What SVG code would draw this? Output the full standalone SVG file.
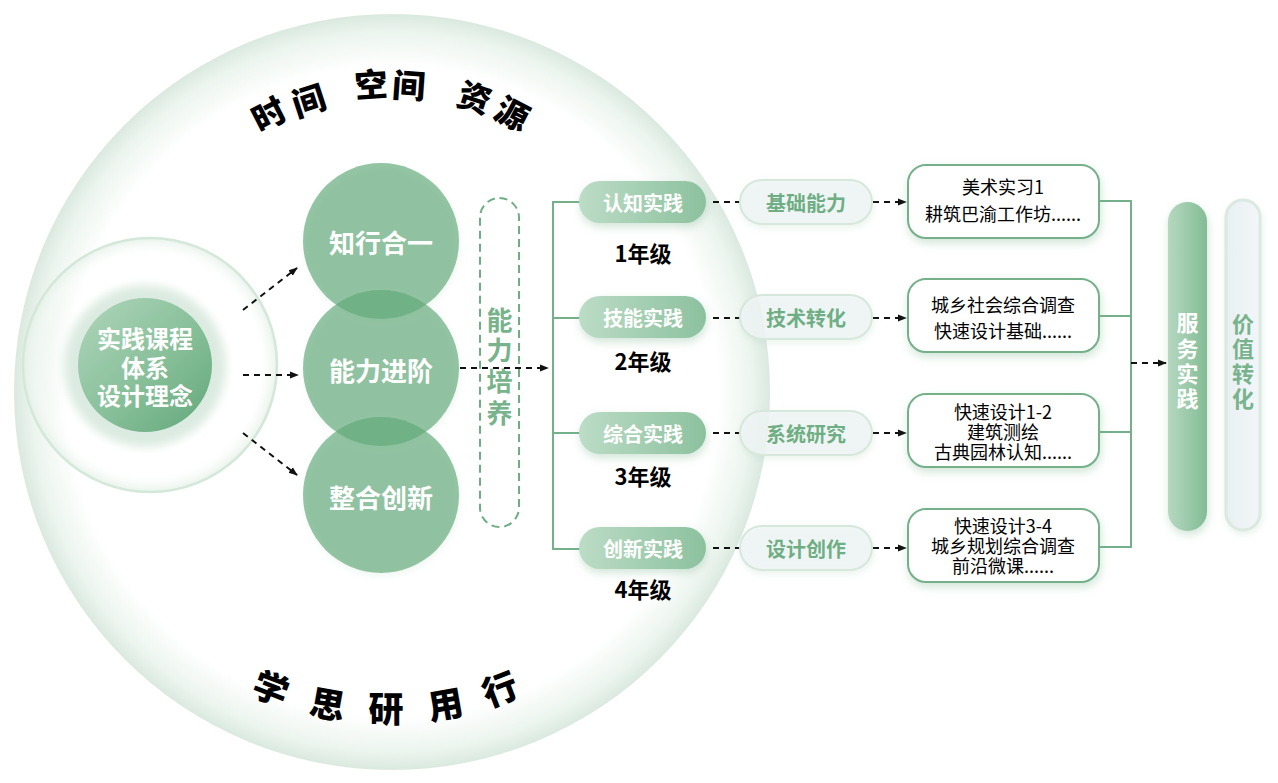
<svg xmlns="http://www.w3.org/2000/svg" width="1278" height="783" viewBox="0 0 1278 783">
<defs>
<style>
.cjk{font-family:"Noto Sans CJK SC","Noto Sans",sans-serif}
.w{fill:#ffffff;font-weight:700}
.arc{font-family:"Noto Sans CJK SC",sans-serif;font-weight:900;font-size:33px;fill:#000;text-anchor:middle;dominant-baseline:central}
.dash{fill:none;stroke:#111;stroke-width:2;stroke-dasharray:6 5}
.br{fill:none;stroke:#74b08a;stroke-width:2}
.pill{fill:url(#pillG);filter:url(#sh)}
.pill2{fill:#eef4f4;fill-opacity:0.85;stroke:#d6e8dc;stroke-width:2;filter:url(#sh2)}
.box{fill:#ffffff;stroke:#74b08a;stroke-width:2;filter:url(#sh)}
.pt{font-family:"Noto Sans CJK SC",sans-serif;font-weight:700;font-size:20px;fill:#ffffff;text-anchor:middle;dominant-baseline:central}
.gt{font-family:"Noto Sans CJK SC",sans-serif;font-weight:700;font-size:20px;fill:#6fae84;text-anchor:middle;dominant-baseline:central}
.yt{font-family:"Noto Sans CJK SC",sans-serif;font-weight:700;font-size:22px;fill:#000;text-anchor:middle;dominant-baseline:central}
.bt{font-family:"Noto Sans CJK SC",sans-serif;font-size:18px;fill:#000;text-anchor:middle;dominant-baseline:central}
.ct{font-family:"Noto Sans CJK SC",sans-serif;font-weight:700;font-size:26px;fill:#fff;text-anchor:middle;dominant-baseline:central}
.big{fill:#61a879;fill-opacity:0.67}
</style>
<radialGradient id="bigG" cx="392" cy="392" r="378" gradientUnits="userSpaceOnUse">
<stop offset="0" stop-color="#ffffff"/>
<stop offset="0.86" stop-color="#ffffff"/>
<stop offset="0.95" stop-color="#edf5ef"/>
<stop offset="1" stop-color="#dae9df"/>
</radialGradient>
<radialGradient id="ringG" cx="150" cy="365" r="127" gradientUnits="userSpaceOnUse">
<stop offset="0" stop-color="#ffffff" stop-opacity="0"/>
<stop offset="0.85" stop-color="#ffffff" stop-opacity="0"/>
<stop offset="1" stop-color="#e4f0e7" stop-opacity="0.8"/>
</radialGradient>
<linearGradient id="nodeG" x1="0" y1="0" x2="1" y2="1">
<stop offset="0" stop-color="#b0d6bb"/>
<stop offset="0.55" stop-color="#87bf99"/>
<stop offset="1" stop-color="#63a77a"/>
</linearGradient>
<linearGradient id="pillG" x1="0" y1="0" x2="1" y2="0">
<stop offset="0" stop-color="#bcdcc6"/>
<stop offset="1" stop-color="#8cc19e"/>
</linearGradient>
<linearGradient id="tallG" x1="0" y1="0" x2="1" y2="0">
<stop offset="0" stop-color="#b6d8c0"/>
<stop offset="1" stop-color="#83bc95"/>
</linearGradient>
<linearGradient id="tall2G" x1="0" y1="0" x2="1" y2="0">
<stop offset="0" stop-color="#e8f0f3"/>
<stop offset="1" stop-color="#f3f6f8"/>
</linearGradient>
<filter id="sh" x="-30%" y="-30%" width="160%" height="170%">
<feDropShadow dx="1" dy="4" stdDeviation="4" flood-color="#6aab80" flood-opacity="0.3"/>
</filter>
<filter id="sh2" x="-30%" y="-30%" width="160%" height="170%">
<feDropShadow dx="1" dy="3" stdDeviation="3" flood-color="#8fbf9f" flood-opacity="0.2"/>
</filter>
<filter id="blur" x="-30%" y="-30%" width="160%" height="160%">
<feGaussianBlur stdDeviation="4"/>
</filter>
<marker id="ah" viewBox="0 0 10 10" refX="9" refY="5" markerWidth="9" markerHeight="9" markerUnits="userSpaceOnUse" orient="auto">
<path d="M0,1 L10,5 L0,9 z" fill="#111"/>
</marker>
</defs>

<rect width="1278" height="783" fill="#ffffff"/>

<g id="background">
<circle cx="392" cy="392" r="378" fill="url(#bigG)"/>
<circle cx="150" cy="365" r="127" fill="url(#ringG)" stroke="#d4e8da" stroke-width="2.5"/>
</g>

<g id="arc-top">
<text class="arc" transform="translate(268,113) rotate(-27)">时</text>
<text class="arc" transform="translate(308,99) rotate(-18)">间</text>
<text class="arc" transform="translate(371,83) rotate(-4)">空</text>
<text class="arc" transform="translate(409,84) rotate(4)">间</text>
<text class="arc" transform="translate(475,96) rotate(18)">资</text>
<text class="arc" transform="translate(513,112) rotate(27)">源</text>
</g>
<g id="arc-bottom">
<text class="arc" style="font-size:35px" transform="translate(272,686) rotate(21)">学</text>
<text class="arc" style="font-size:35px" transform="translate(328,702) rotate(10)">思</text>
<text class="arc" style="font-size:35px" transform="translate(386,706)">研</text>
<text class="arc" style="font-size:35px" transform="translate(445,702) rotate(-10)">用</text>
<text class="arc" style="font-size:35px" transform="translate(499,687) rotate(-21)">行</text>
</g>

<g id="node-core">
<circle cx="145" cy="366" r="81" fill="#dcebe1" filter="url(#blur)"/>
<circle cx="145" cy="365" r="67" fill="url(#nodeG)"/>
<text class="pt" style="font-size:24px" x="145" y="337">实践课程</text>
<text class="pt" style="font-size:24px" x="145" y="366">体系</text>
<text class="pt" style="font-size:24px" x="145" y="394">设计理念</text>
</g>

<g id="node-circles" filter="url(#sh2)">
<circle class="big" cx="381" cy="241" r="78"/>
<circle class="big" cx="381" cy="368" r="78"/>
<circle class="big" cx="381" cy="495" r="78"/>
</g>
<g id="node-zhixing"><text class="ct" x="381" y="241">知行合一</text></g>
<g id="node-nengli"><text class="ct" x="381" y="369">能力进阶</text></g>
<g id="node-zhenghe"><text class="ct" x="381" y="496">整合创新</text></g>

<g id="node-peiyang">
<rect x="480" y="198" width="39" height="329" rx="19.5" fill="none" stroke="#6fae84" stroke-width="2" stroke-dasharray="8 5"/>
<text class="gt" style="font-size:26px;fill:#78b38c" x="499.5" y="318">能</text>
<text class="gt" style="font-size:26px;fill:#78b38c" x="499.5" y="348">力</text>
<text class="gt" style="font-size:26px;fill:#78b38c" x="499.5" y="379">培</text>
<text class="gt" style="font-size:26px;fill:#78b38c" x="499.5" y="411">养</text>
</g>

<g id="connectors">
<path class="dash" d="M243,310 L297,268" marker-end="url(#ah)"/>
<path class="dash" d="M243,375 L298,375" marker-end="url(#ah)"/>
<path class="dash" d="M243,433 L297,475" marker-end="url(#ah)"/>
<path class="dash" d="M460,368 L548,368" marker-end="url(#ah)"/>
<path class="br" d="M580,202 H553 V549 H580 M553,318 H580 M553,433 H580"/>
<path class="dash" d="M713,202 H740"/>
<path class="dash" d="M713,318 H740"/>
<path class="dash" d="M713,433 H740"/>
<path class="dash" d="M713,548 H740"/>
<path class="dash" d="M873,202 H906" marker-end="url(#ah)"/>
<path class="dash" d="M873,318 H906" marker-end="url(#ah)"/>
<path class="dash" d="M873,433 H906" marker-end="url(#ah)"/>
<path class="dash" d="M873,548 H906" marker-end="url(#ah)"/>
<path class="br" d="M1099,201 H1131 V547 H1099 M1099,316 H1131 M1099,432 H1131"/>
<path class="dash" d="M1131,363 H1166" marker-end="url(#ah)"/>
</g>

<g id="level-1">
<rect class="pill" x="579" y="181" width="127" height="42" rx="21"/>
<text class="pt" x="643" y="202">认知实践</text>
<text class="yt" x="643" y="252">1年级</text>
<rect class="pill2" x="740" y="180" width="132" height="44" rx="22"/>
<text class="gt" x="806" y="202">基础能力</text>
<rect class="box" x="908" y="165" width="191" height="73" rx="18"/>
<text class="bt" x="1003" y="186">美术实习1</text>
<text class="bt" x="1003" y="213">耕筑巴渝工作坊......</text>
</g>

<g id="level-2">
<rect class="pill" x="579" y="296" width="127" height="42" rx="21"/>
<text class="pt" x="643" y="317">技能实践</text>
<text class="yt" x="643" y="360">2年级</text>
<rect class="pill2" x="740" y="295" width="132" height="44" rx="22"/>
<text class="gt" x="806" y="317">技术转化</text>
<rect class="box" x="908" y="279" width="191" height="73" rx="18"/>
<text class="bt" x="1003" y="304">城乡社会综合调查</text>
<text class="bt" x="1003" y="330">快速设计基础......</text>
</g>

<g id="level-3">
<rect class="pill" x="579" y="412" width="127" height="42" rx="21"/>
<text class="pt" x="643" y="433">综合实践</text>
<text class="yt" x="643" y="475">3年级</text>
<rect class="pill2" x="740" y="411" width="132" height="44" rx="22"/>
<text class="gt" x="806" y="433">系统研究</text>
<rect class="box" x="908" y="394" width="191" height="73" rx="18"/>
<text class="bt" x="1003" y="411">快速设计1-2</text>
<text class="bt" x="1003" y="431">建筑测绘</text>
<text class="bt" x="1003" y="451">古典园林认知......</text>
</g>

<g id="level-4">
<rect class="pill" x="579" y="527" width="127" height="42" rx="21"/>
<text class="pt" x="643" y="548">创新实践</text>
<text class="yt" x="643" y="588">4年级</text>
<rect class="pill2" x="740" y="526" width="132" height="44" rx="22"/>
<text class="gt" x="806" y="548">设计创作</text>
<rect class="box" x="908" y="509" width="191" height="73" rx="18"/>
<text class="bt" x="1003" y="525">快速设计3-4</text>
<text class="bt" x="1003" y="545">城乡规划综合调查</text>
<text class="bt" x="1003" y="565">前沿微课......</text>
</g>

<g id="node-fuwu">
<rect x="1168" y="202" width="39" height="329" rx="19.5" fill="url(#tallG)" filter="url(#sh)"/>
<text class="pt" style="font-size:22px" x="1187.5" y="321">服</text>
<text class="pt" style="font-size:22px" x="1187.5" y="347">务</text>
<text class="pt" style="font-size:22px" x="1187.5" y="372">实</text>
<text class="pt" style="font-size:22px" x="1187.5" y="397">践</text>
</g>

<g id="node-jiazhi">
<rect x="1226" y="200" width="34" height="330" rx="17" fill="url(#tall2G)" stroke="#dbe9e1" stroke-width="3" filter="url(#sh2)"/>
<text class="gt" style="font-size:22px;fill:#79b38d" x="1243" y="322">价</text>
<text class="gt" style="font-size:22px;fill:#79b38d" x="1243" y="347">值</text>
<text class="gt" style="font-size:22px;fill:#79b38d" x="1243" y="372">转</text>
<text class="gt" style="font-size:22px;fill:#79b38d" x="1243" y="397">化</text>
</g>
</svg>
